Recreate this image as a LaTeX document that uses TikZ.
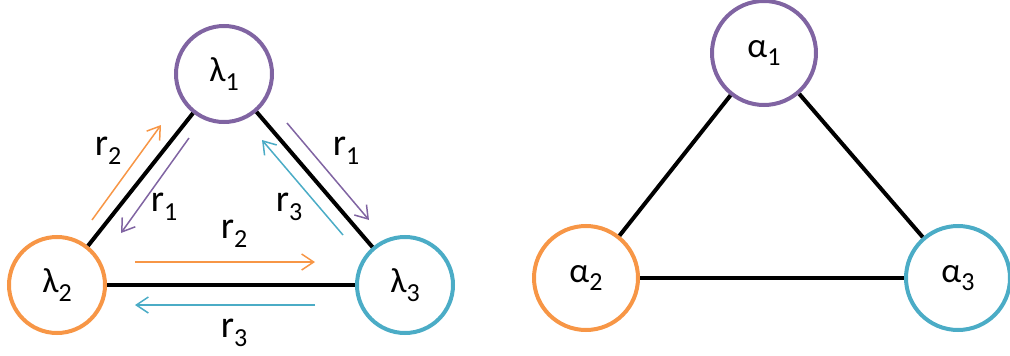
\documentclass[tikz,border=0pt]{standalone}
\usepackage{fontspec}
\setmainfont{Carlito}
\usetikzlibrary{arrows.meta}

\definecolor{lpurple}{HTML}{8064A2}
\definecolor{lorange}{HTML}{F79646}
\definecolor{lcyan}{HTML}{4BACC6}

\newcommand{\lowsub}[1]{\raisebox{-8.5pt}{\fontsize{26}{26}\selectfont #1}}

\begin{document}
\begin{tikzpicture}[x=1pt,y=-1pt,
	state node/.style={circle,draw,line width=4pt,minimum size=96pt,inner sep=0pt,
		font=\fontsize{35}{40}\selectfont},
	big node/.style={state node,minimum size=104pt},
	rate arrow/.style={line width=1.5pt,-{Straight Barb[length=12pt,width=16pt,line width=1.5pt]}},
	rate label/.style={font=\fontsize{38}{42}\selectfont}]
	
	\useasboundingbox (0,0) rectangle (1010,356);
	
	% left triangle
	\node[state node,draw=lpurple] (l1) at (224,74) {λ\lowsub{1}};
	\node[state node,draw=lorange] (l2) at (57,285) {λ\lowsub{2}};
	\node[state node,draw=lcyan] (l3) at (405,285) {λ\lowsub{3}};
	
	\path[line width=4pt]
	(l1) edge (l2)
	(l1) edge (l3)
	(l2) edge (l3);
	
	% arrow ends
	\coordinate (r2a) at (92,220);
	\coordinate (r2b) at (161,125);
	\coordinate (r1a) at (189,138);
	\coordinate (r1b) at (121,233);
	\coordinate (r2c) at (135,262);
	\coordinate (r2d) at (315,262);
	\coordinate (r3a) at (315,305);
	\coordinate (r3b) at (135,305);
	\coordinate (r1c) at (287,123);
	\coordinate (r1d) at (369,220);
	\coordinate (r3c) at (343,235);
	\coordinate (r3d) at (262,140);
	
	\draw[rate arrow,lorange] (r2a) -- (r2b);
	\draw[rate arrow,lpurple] (r1a) -- (r1b);
	\draw[rate arrow,lorange] (r2c) -- (r2d);
	\draw[rate arrow,lcyan] (r3a) -- (r3b);
	\draw[rate arrow,lpurple] (r1c) -- (r1d);
	\draw[rate arrow,lcyan] (r3c) -- (r3d);
	
	\node[rate label] (t21) at (108,151) {r\lowsub{2}};
	\node[rate label] (t12) at (164,207) {r\lowsub{1}};
	\node[rate label] (t23) at (234,234) {r\lowsub{2}};
	\node[rate label] (t32) at (234,333) {r\lowsub{3}};
	\node[rate label] (t13) at (346,151) {r\lowsub{1}};
	\node[rate label] (t31) at (289,207) {r\lowsub{3}};
	
	% right triangle
	\node[big node,draw=lpurple] (a1) at (764,53) {α\lowsub{1}};
	\node[big node,draw=lorange] (a2) at (586,278) {α\lowsub{2}};
	\node[big node,draw=lcyan] (a3) at (958,278) {α\lowsub{3}};
	
	\path[line width=4pt]
	(a1) edge (a2)
	(a1) edge (a3)
	(a2) edge (a3);
\end{tikzpicture}
\end{document}
